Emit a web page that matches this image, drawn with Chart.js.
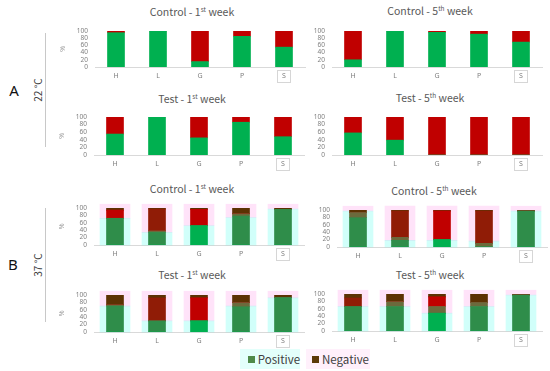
<!DOCTYPE html>
<html lang="en">
<head>
<meta charset="UTF-8">
<script src="https://cdn.jsdelivr.net/npm/chart.js"></script>
<style>
    body { margin: 0; background: #fff; }
    .fig { position: relative; width: 550px; height: 371px; overflow: hidden; font-family: "Noto Sans CJK JP", "Noto Sans", sans-serif; }
    .fig canvas { position: absolute; }
    .title { position: absolute; transform: translate(-50%, -50%); font-size: 10.5px; color: #595959; white-space: nowrap; }
    .title sup { font-size: 6.5px; vertical-align: 4px; line-height: 0; }
    .panel { position: absolute; font-family: "Noto Sans", sans-serif; font-size: 15px; color: #111; transform: translate(-50%, -50%); }
    .temp { position: absolute; font-size: 10px; color: #404040; white-space: nowrap; transform: translate(-50%, -50%) rotate(-90deg); }
    .vline { position: absolute; width: 1px; background: #c8c8c8; }
    .legend { position: absolute; top: 349px; height: 20px; display: flex; align-items: center; font-size: 11.5px; color: #404040; }
    .legend span.sw { display: inline-block; width: 7px; height: 7px; margin-right: 3px; }
</style>
</head>
<body>
<div class="fig" id="fig">
    <div class="title" style="left:192px;top:11px">Control - 1<sup>st</sup> week</div>
    <div class="title" style="left:430px;top:10px">Control - 5<sup>th</sup> week</div>
    <div class="title" style="left:192px;top:98px">Test - 1<sup>st</sup> week</div>
    <div class="title" style="left:430px;top:97px">Test - 5<sup>th</sup> week</div>
    <div class="title" style="left:192px;top:188px">Control - 1<sup>st</sup> week</div>
    <div class="title" style="left:434px;top:190px">Control - 5<sup>th</sup> week</div>
    <div class="title" style="left:192px;top:274px">Test - 1<sup>st</sup> week</div>
    <div class="title" style="left:430px;top:274px">Test - 5<sup>th</sup> week</div>

    <div class="panel" style="left:14px;top:90px">A</div>
    <div class="temp" style="left:37px;top:90px">22 °C</div>
    <div class="vline" style="left:45px;top:33px;height:114px"></div>
    <div class="panel" style="left:13px;top:264px">B</div>
    <div class="temp" style="left:37px;top:265px">37 °C</div>
    <div class="vline" style="left:45px;top:208px;height:114px"></div>

    <div class="legend" style="left:240px;width:60px;background:#e3fffb"><span class="sw" style="background:#4f8a48;margin-left:8px"></span>Positive</div>
    <div class="legend" style="left:306px;width:64px;background:#fff0fb"><span class="sw" style="background:#5c3a08;margin-left:6px"></span>Negative</div>
</div>
<script>
    const categories = ['H', 'L', 'G', 'P', 'S'];

    // 22 °C, percent of samples
    const control1wk22Pos = [95, 100, 15, 85, 55];
    const control1wk22Neg = [5, 0, 85, 15, 45];
    const control5wk22Pos = [20, 100, 96, 91, 69];
    const control5wk22Neg = [80, 0, 4, 9, 31];
    const test1wk22Pos = [55, 100, 45, 86, 48];
    const test1wk22Neg = [45, 0, 55, 14, 52];
    const test5wk22Pos = [58, 39, 0, 0, 0];
    const test5wk22Neg = [42, 61, 100, 100, 100];

    // 37 °C: two pictures lie on top of each other, so bars are split in the colour bands you can see
    const control1wk37PosBright = [0, 0, 52, 0, 0];
    const control1wk37PosDark = [72, 34, 0, 78, 96];
    const control1wk37Mixed = [0, 4, 0, 6, 0];
    const control1wk37NegBright = [22, 0, 44, 0, 0];
    const control1wk37NegDark = [0, 59, 0, 0, 0];
    const control1wk37NegTop = [6, 3, 4, 16, 4];
    const control1wk37PaleCyan = [72, 34, 52, 74, 97];
    const control1wk37PalePink = [38, 76, 58, 36, 13];

    const control5wk37PosBright = [0, 0, 20, 0, 0];
    const control5wk37PosDark = [79, 18, 0, 0, 97];
    const control5wk37Mixed = [14, 8, 0, 10, 0];
    const control5wk37NegBright = [0, 0, 77, 0, 0];
    const control5wk37NegDark = [0, 71, 0, 87, 0];
    const control5wk37NegTop = [7, 3, 3, 3, 3];
    const control5wk37PaleCyan = [97, 18, 18, 16, 97];
    const control5wk37PalePink = [13, 92, 92, 94, 13];

    const test1wk37PosBright = [0, 0, 30, 0, 0];
    const test1wk37PosDark = [70, 30, 0, 68, 93];
    const test1wk37Mixed = [3, 0, 0, 11, 0];
    const test1wk37NegBright = [0, 0, 62, 0, 0];
    const test1wk37NegDark = [0, 62, 0, 0, 0];
    const test1wk37NegTop = [27, 8, 8, 21, 7];
    const test1wk37PaleCyan = [70, 30, 30, 70, 92];
    const test1wk37PalePink = [40, 80, 80, 40, 18];

    const test5wk37PosBright = [0, 0, 48, 0, 0];
    const test5wk37PosDark = [66, 66, 0, 66, 97];
    const test5wk37Mixed = [0, 13, 18, 11, 0];
    const test5wk37NegBright = [0, 0, 26, 0, 0];
    const test5wk37NegDark = [23, 0, 0, 0, 0];
    const test5wk37NegTop = [11, 21, 8, 23, 3];
    const test5wk37PaleCyan = [66, 66, 48, 66, 97];
    const test5wk37PalePink = [44, 44, 62, 44, 13];

    const GREEN = '#00b050', RED = '#c00000';
    const DARK_GREEN = '#2f8d4a', OLIVE = '#6b6a3c', DARK_RED = '#901c06', BROWN = '#5c3203';
    const PALE_CYAN = 'rgba(0,255,230,0.18)', PALE_PINK = 'rgba(255,0,200,0.11)';

    function bar(data, color) {
        return { data: data, backgroundColor: color, stack: 'main', barThickness: 17, grouped: false, order: 1, borderWidth: 0 };
    }
    function pale(data, color) {
        return { data: data, backgroundColor: color, stack: 'bg', barThickness: 30, grouped: false, order: 2, borderWidth: 0, clip: false };
    }

    // box around the last category label, as in the figure
    const boxLast = {
        id: 'boxLast',
        afterDraw(chart) {
            const x = chart.scales.x;
            const px = Math.round(x.getPixelForValue(categories.length - 1));
            const c = chart.ctx;
            c.save();
            c.strokeStyle = '#d6d6d6';
            c.lineWidth = 1;
            c.strokeRect(px - 6.5, x.top + 3.5, 13, 12);
            c.restore();
        }
    };

    const fig = document.getElementById('fig');

    // x0 / yTop / yBot: where the plot area sits in the figure
    function makePanel(x0, yTop, yBot, showPct, datasets) {
        const canvas = document.createElement('canvas');
        const padTop = 8, axisW = 40, axisH = 22;
        canvas.width = axisW + 210 + 2;
        canvas.height = padTop + (yBot - yTop) + axisH;
        canvas.style.left = (x0 - axisW) + 'px';
        canvas.style.top = (yTop - padTop) + 'px';
        fig.appendChild(canvas);
        return new Chart(canvas, {
            type: 'bar',
            data: { labels: categories, datasets: datasets },
            options: {
                responsive: false,
                animation: false,
                layout: { padding: { top: padTop, right: 2, left: 0, bottom: 0 } },
                plugins: { legend: { display: false }, tooltip: { enabled: false } },
                scales: {
                    x: {
                        grid: { display: false, drawTicks: false },
                        border: { color: '#d9d9d9' },
                        ticks: { color: '#7f7f7f', font: { size: 7, family: 'Noto Sans' }, padding: 5 },
                        afterFit: s => { s.height = axisH; }
                    },
                    y: {
                        stacked: true,
                        min: 0,
                        max: 100,
                        grid: { display: false, drawTicks: false },
                        border: { display: false },
                        ticks: { stepSize: 20, autoSkip: false, color: '#7f7f7f', font: { size: 6.5, family: 'Noto Sans' }, padding: 7 },
                        title: { display: showPct, text: '%', color: '#8c8c8c', font: { size: 6.5 } },
                        afterFit: s => { s.width = axisW; }
                    }
                }
            },
            plugins: [boxLast]
        });
    }

    makePanel(95, 28, 67, true, [bar(control1wk22Pos, GREEN), bar(control1wk22Neg, RED)]);
    makePanel(332, 28, 67, false, [bar(control5wk22Pos, GREEN), bar(control5wk22Neg, RED)]);
    makePanel(94, 114, 155, true, [bar(test1wk22Pos, GREEN), bar(test1wk22Neg, RED)]);
    makePanel(332, 114, 155, false, [bar(test5wk22Pos, GREEN), bar(test5wk22Neg, RED)]);

    makePanel(94, 205, 245, true, [
        bar(control1wk37PosBright, GREEN), bar(control1wk37PosDark, DARK_GREEN), bar(control1wk37Mixed, OLIVE),
        bar(control1wk37NegBright, RED), bar(control1wk37NegDark, DARK_RED), bar(control1wk37NegTop, BROWN),
        pale(control1wk37PaleCyan, PALE_CYAN), pale(control1wk37PalePink, PALE_PINK)
    ]);
    makePanel(337, 207, 247, false, [
        bar(control5wk37PosBright, GREEN), bar(control5wk37PosDark, DARK_GREEN), bar(control5wk37Mixed, OLIVE),
        bar(control5wk37NegBright, RED), bar(control5wk37NegDark, DARK_RED), bar(control5wk37NegTop, BROWN),
        pale(control5wk37PaleCyan, PALE_CYAN), pale(control5wk37PalePink, PALE_PINK)
    ]);
    makePanel(94, 292, 332, true, [
        bar(test1wk37PosBright, GREEN), bar(test1wk37PosDark, DARK_GREEN), bar(test1wk37Mixed, OLIVE),
        bar(test1wk37NegBright, RED), bar(test1wk37NegDark, DARK_RED), bar(test1wk37NegTop, BROWN),
        pale(test1wk37PaleCyan, PALE_CYAN), pale(test1wk37PalePink, PALE_PINK)
    ]);
    makePanel(332, 291, 331, false, [
        bar(test5wk37PosBright, GREEN), bar(test5wk37PosDark, DARK_GREEN), bar(test5wk37Mixed, OLIVE),
        bar(test5wk37NegBright, RED), bar(test5wk37NegDark, DARK_RED), bar(test5wk37NegTop, BROWN),
        pale(test5wk37PaleCyan, PALE_CYAN), pale(test5wk37PalePink, PALE_PINK)
    ]);
</script>
</body>
</html>
